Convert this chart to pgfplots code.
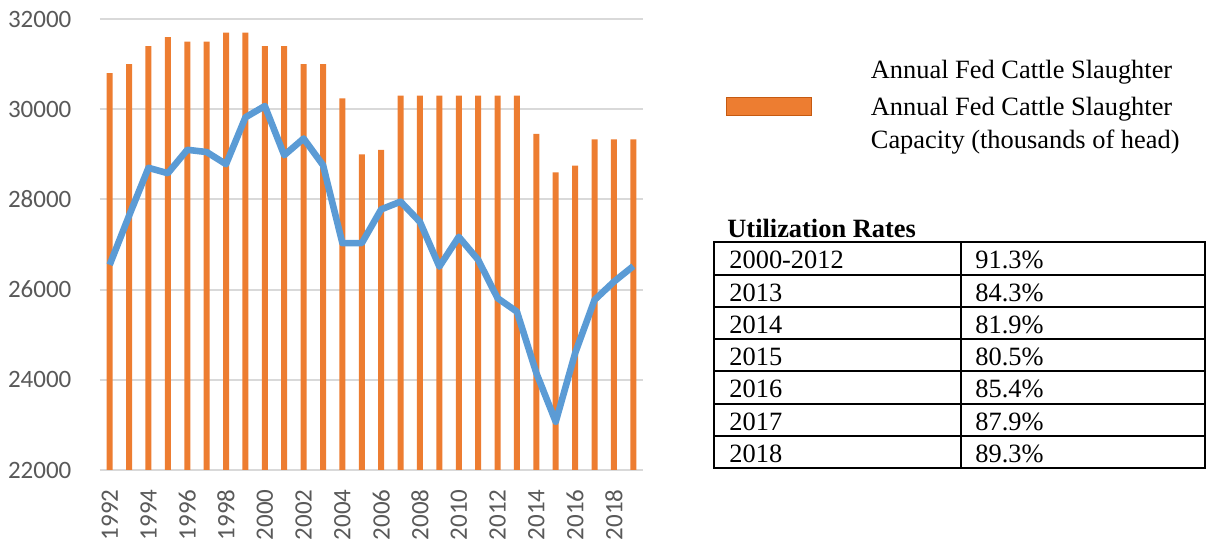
\documentclass[border=0pt]{standalone}
\usepackage{pgfplots}
\pgfplotsset{compat=1.18}
\usepackage{pgfplotstable}
\usepackage{fontspec}
\setmainfont{Liberation Serif}
\newfontfamily\calibri{Carlito}
\definecolor{barorange}{HTML}{ED7D31}
\definecolor{barborder}{HTML}{C55A11}
\definecolor{lineblue}{HTML}{5B9BD5}
\definecolor{gridgray}{HTML}{D9D9D9}
\definecolor{tickgray}{HTML}{595959}
\pgfplotstableread{
year cap
1992 30800
1993 31000
1994 31400
1995 31600
1996 31500
1997 31500
1998 31700
1999 31700
2000 31400
2001 31400
2002 31000
2003 31000
2004 30240
2005 29000
2006 29100
2007 30300
2008 30300
2009 30300
2010 30300
2011 30300
2012 30300
2013 30300
2014 29450
2015 28600
2016 28750
2017 29330
2018 29330
2019 29330
}\capacity
\pgfplotstableread{
year slaughter
1992 26550
1993 27640
1994 28700
1995 28580
1996 29100
1997 29050
1998 28780
1999 29820
2000 30070
2001 28980
2002 29350
2003 28760
2004 27030
2005 27030
2006 27780
2007 27950
2008 27500
2009 26510
2010 27170
2011 26660
2012 25810
2013 25510
2014 24150
2015 23070
2016 24590
2017 25770
2018 26175
2019 26520
}\slaughter
\begin{document}
\begin{tikzpicture}
\useasboundingbox (0,0) rectangle (605.5pt,-272pt);
\begin{axis}[
  at={(50pt,-235pt)}, anchor=south west,
  scale only axis, width=271.5pt, height=225.5pt,
  xmin=1991.5, xmax=2019.5, ymin=22000, ymax=32000,
  xtick={1992,1994,...,2018},
  ytick={22000,24000,...,32000},
  axis line style={draw=none},
  tick style={draw=none},
  ymajorgrids,
  major grid style={gridgray, line width=1pt},
  scaled y ticks=false,
  /pgf/number format/assume math mode=true,
  /pgf/number format/1000 sep={},
  ticklabel style={font=\calibri\fontsize{12.5}{14}\selectfont, text=tickgray, inner sep=0pt},
  yticklabel style={anchor=east},
  yticklabel shift=14.1pt,
  xticklabel style={rotate=90, anchor=east},
  xticklabel shift=9.5pt,
  legend style={at={(1.15285,0.92173)}, anchor=north west, draw=none, fill=none,
    inner sep=0pt, row sep=1.95pt, column sep=0pt,
    nodes={inner sep=0pt, text depth=},
    font=\fontsize{13.2}{16.7}\selectfont},
  legend cell align=left,
  reverse legend,
]
\addplot[ybar, bar width=3pt, fill=barorange, draw=none,
  legend image code/.code={\draw[fill=barorange, draw=barborder, line width=0.5pt] (0pt,5pt) rectangle (42.5pt,13.7pt); \path (72pt,9pt);}]
  table[x=year, y=cap] {\capacity};
\addlegendentry{\begin{tabular}[t]{@{}l@{}}Annual Fed Cattle Slaughter\\Capacity (thousands of head)\end{tabular}}
\addplot[sharp plot, lineblue, line width=3.3pt, line join=round, mark=none,
  legend image code/.code={}]
  table[x=year, y=slaughter] {\slaughter};
\addlegendentry{\begin{tabular}[t]{@{}l@{}}Annual Fed Cattle Slaughter\end{tabular}}
\end{axis}
\begin{scope}[x=0.5pt,y=-0.5pt, font=\fontsize{13.2}{16}\selectfont]
\node[anchor=base west, inner sep=0pt, font=\bfseries\fontsize{13.2}{16}\selectfont] at (727,237.3) {Utilization Rates};
\draw[line width=1pt] (714,242.3) rectangle (1205,468.3);
\draw[line width=1pt] (960.7,242.3) -- (960.7,468.3);
\foreach \k in {1,...,6} \draw[line width=1pt] (714,242.3+32.29*\k) -- (1205,242.3+32.29*\k);
\foreach \lab/\val [count=\i from 0] in {2000-2012/91.3\%, 2013/84.3\%, 2014/81.9\%, 2015/80.5\%, 2016/85.4\%, 2017/87.9\%, 2018/89.3\%} {
  \node[anchor=base west, inner sep=0pt] at (729, 242.3+32.29*\i+26.5) {\lab};
  \node[anchor=base west, inner sep=0pt] at (975, 242.3+32.29*\i+26.5) {\val};
}
\end{scope}
\end{tikzpicture}
\end{document}
